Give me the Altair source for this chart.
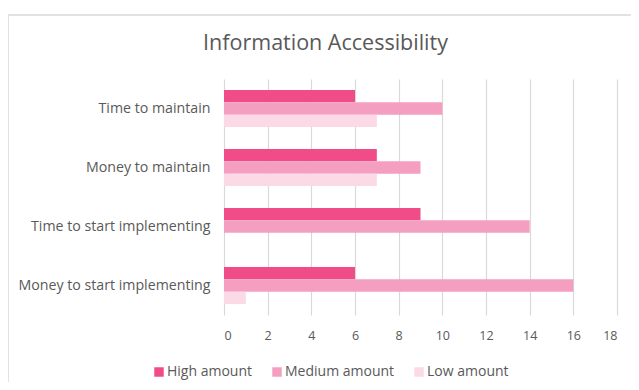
import altair as alt
import pandas as pd

categories = ["Time to maintain", "Money to maintain", "Time to start implementing", "Money to start implementing"]
levels = ["High amount", "Medium amount", "Low amount"]
high = [6, 7, 9, 6]
medium = [10, 9, 14, 16]
low = [7, 7, 0, 1]
colors = ["#F04C87", "#F59FC0", "#FBDAE6"]
x_ticks = [0, 2, 4, 6, 8, 10, 12, 14, 16, 18]

rows = []
for i, c in enumerate(categories):
    for lvl, vals in zip(levels, [high, medium, low]):
        rows.append({"Category": c, "Level": lvl, "Value": vals[i]})
df = pd.DataFrame(rows)

FONT = "Open Sans"
TXT = "#595959"

frame = alt.Chart(pd.DataFrame({"a": [0]})).mark_rect(
    fillOpacity=0, stroke="#D9D9D9", strokeWidth=1.5
).encode(
    x=alt.value(-216), x2=alt.value(520), y=alt.value(-64), y2=alt.value(420)
)

bars = alt.Chart(df).mark_bar().encode(
    x=alt.X("Value:Q", scale=alt.Scale(domain=[0, 18]),
            axis=alt.Axis(values=x_ticks, title=None, domain=False, ticks=False,
                          grid=True, gridColor="#D9D9D9", gridWidth=1.2,
                          labelPadding=14, labelFontSize=12.5, labelColor=TXT,
                          labelFont=FONT)),
    y=alt.Y("Category:N", sort=categories,
            scale=alt.Scale(paddingInner=0.37, paddingOuter=0.185),
            axis=alt.Axis(title=None, domain=False, ticks=False, labelPadding=14,
                          labelFontSize=14.2, labelColor=TXT, labelFont=FONT,
                          labelLimit=300)),
    yOffset=alt.YOffset("Level:N", sort=levels, scale=alt.Scale(paddingInner=0)),
    color=alt.Color("Level:N", sort=levels,
                    scale=alt.Scale(domain=levels, range=colors),
                    legend=alt.Legend(title=None, orient="none", direction="horizontal",
                                      legendX=-72, legendY=286, symbolType="square",
                                      symbolSize=90, symbolStrokeWidth=0,
                                      labelFontSize=14, labelColor=TXT, labelFont=FONT,
                                      labelOffset=1, columnPadding=17)),
)

chart = alt.layer(frame, bars).properties(
    width=393, height=236,
    title=alt.TitleParams("Information Accessibility", fontSize=21.5, color=TXT,
                          font=FONT, fontWeight="normal", anchor="middle",
                          dx=-95, offset=-57, baseline="alphabetic"),
    autosize=alt.AutoSizeParams(type="none"),
    padding={"left": 216, "top": 71, "right": 14, "bottom": 67},
).configure_view(stroke="transparent")

chart.save("out.html", embed_options={"renderer": "svg", "actions": False})
